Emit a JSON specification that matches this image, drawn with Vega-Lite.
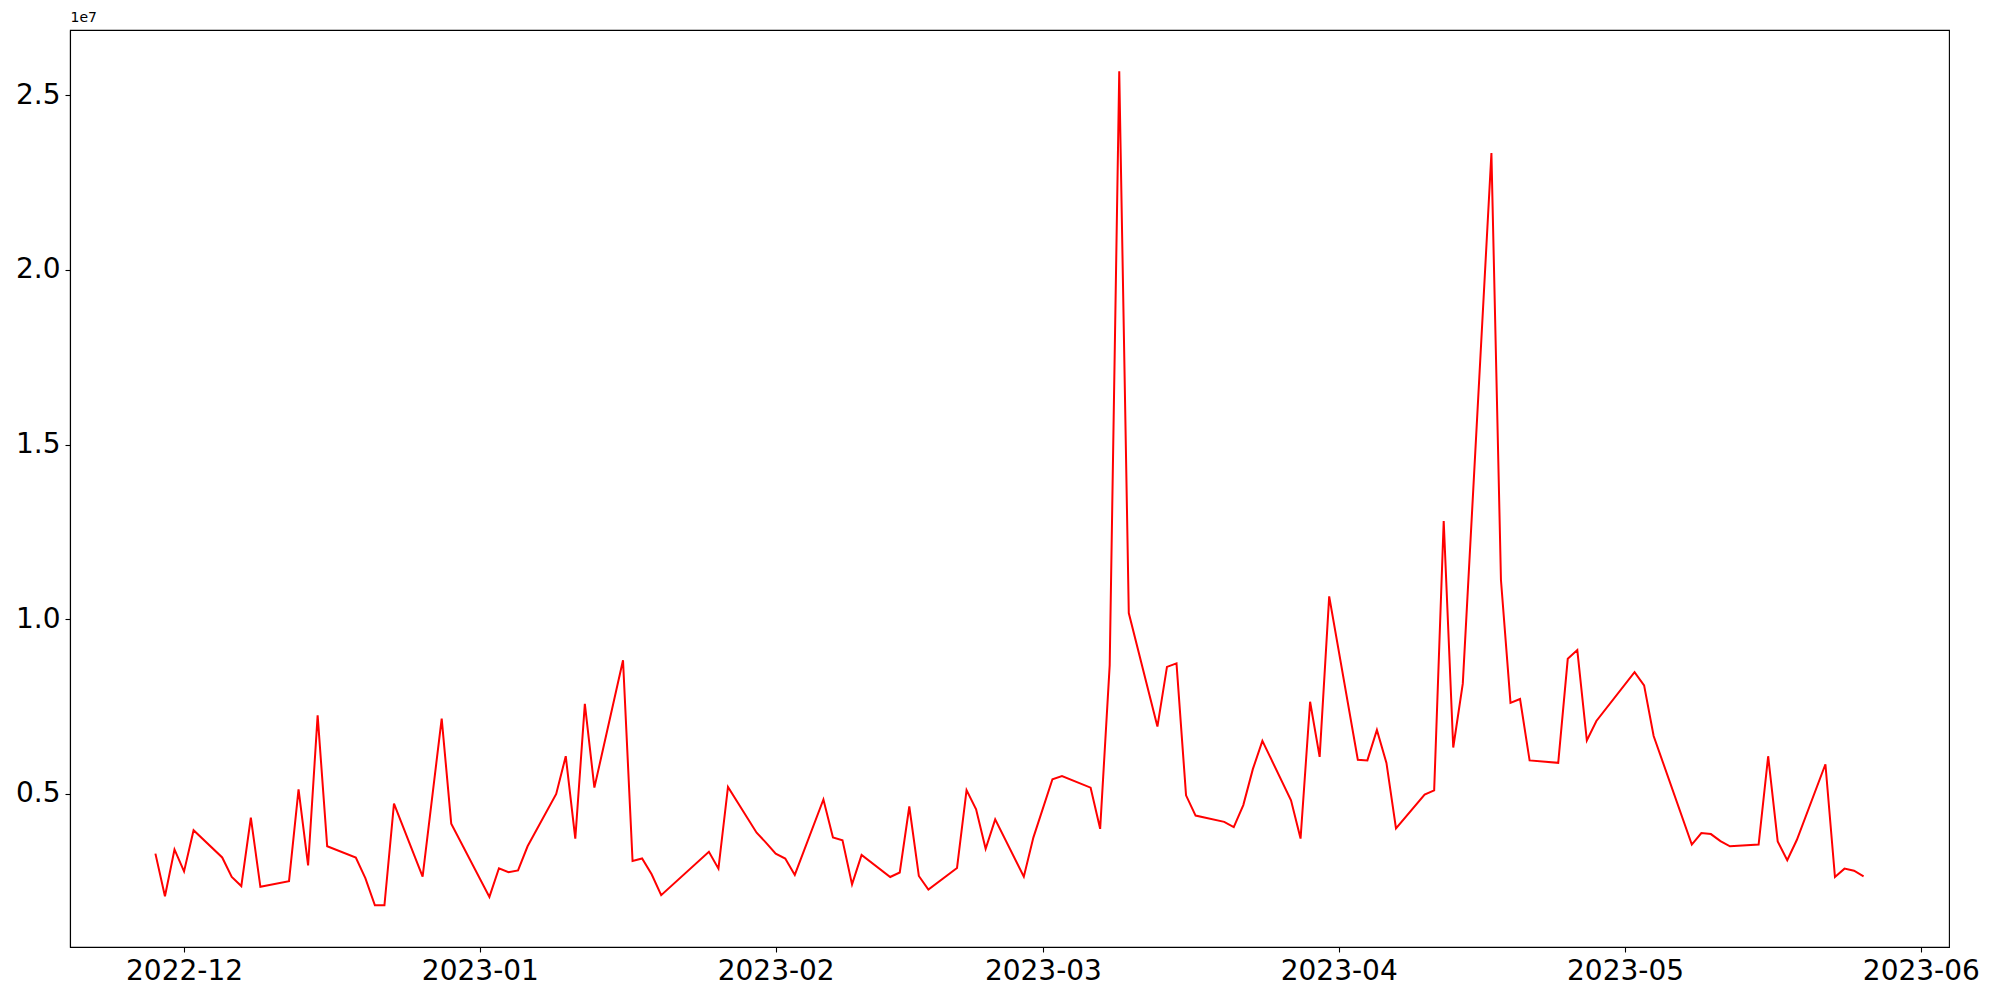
{
  "$schema": "https://vega.github.io/schema/vega-lite/v6.json",
  "autosize": {"type": "none"},
  "padding": {"left": 70, "top": 30, "right": 51, "bottom": 53},
  "width": 1879,
  "height": 917,
  "background": "white",
  "config": {
    "view": {"stroke": "black", "strokeWidth": 1.1},
    "font": "DejaVu Sans",
    "axis": {"grid": false, "domainColor": "black", "tickColor": "black", "labelColor": "black", "labelFont": "DejaVu Sans", "labelFontSize": 28, "tickSize": 5, "labelPadding": 5, "domainWidth": 1.1, "tickWidth": 1.1}
  },
  "data": {"values": [
    {"date": "2022-11-28", "volume": 3280000},
    {"date": "2022-11-29", "volume": 2060000},
    {"date": "2022-11-30", "volume": 3400000},
    {"date": "2022-12-01", "volume": 2770000},
    {"date": "2022-12-02", "volume": 3950000},
    {"date": "2022-12-05", "volume": 3170000},
    {"date": "2022-12-06", "volume": 2610000},
    {"date": "2022-12-07", "volume": 2350000},
    {"date": "2022-12-08", "volume": 4310000},
    {"date": "2022-12-09", "volume": 2330000},
    {"date": "2022-12-12", "volume": 2490000},
    {"date": "2022-12-13", "volume": 5120000},
    {"date": "2022-12-14", "volume": 2940000},
    {"date": "2022-12-15", "volume": 7240000},
    {"date": "2022-12-16", "volume": 3490000},
    {"date": "2022-12-19", "volume": 3170000},
    {"date": "2022-12-20", "volume": 2580000},
    {"date": "2022-12-21", "volume": 1800000},
    {"date": "2022-12-22", "volume": 1800000},
    {"date": "2022-12-23", "volume": 4710000},
    {"date": "2022-12-26", "volume": 2620000},
    {"date": "2022-12-28", "volume": 7150000},
    {"date": "2022-12-29", "volume": 4140000},
    {"date": "2023-01-02", "volume": 2040000},
    {"date": "2023-01-03", "volume": 2860000},
    {"date": "2023-01-04", "volume": 2750000},
    {"date": "2023-01-05", "volume": 2800000},
    {"date": "2023-01-06", "volume": 3490000},
    {"date": "2023-01-09", "volume": 4990000},
    {"date": "2023-01-10", "volume": 6070000},
    {"date": "2023-01-11", "volume": 3710000},
    {"date": "2023-01-12", "volume": 7570000},
    {"date": "2023-01-13", "volume": 5170000},
    {"date": "2023-01-16", "volume": 8820000},
    {"date": "2023-01-17", "volume": 3070000},
    {"date": "2023-01-18", "volume": 3140000},
    {"date": "2023-01-19", "volume": 2690000},
    {"date": "2023-01-20", "volume": 2090000},
    {"date": "2023-01-25", "volume": 3330000},
    {"date": "2023-01-26", "volume": 2850000},
    {"date": "2023-01-27", "volume": 5190000},
    {"date": "2023-01-30", "volume": 3880000},
    {"date": "2023-01-31", "volume": 3590000},
    {"date": "2023-02-01", "volume": 3280000},
    {"date": "2023-02-02", "volume": 3140000},
    {"date": "2023-02-03", "volume": 2670000},
    {"date": "2023-02-06", "volume": 4830000},
    {"date": "2023-02-07", "volume": 3740000},
    {"date": "2023-02-08", "volume": 3660000},
    {"date": "2023-02-09", "volume": 2400000},
    {"date": "2023-02-10", "volume": 3240000},
    {"date": "2023-02-13", "volume": 2610000},
    {"date": "2023-02-14", "volume": 2740000},
    {"date": "2023-02-15", "volume": 4630000},
    {"date": "2023-02-16", "volume": 2640000},
    {"date": "2023-02-17", "volume": 2250000},
    {"date": "2023-02-20", "volume": 2870000},
    {"date": "2023-02-21", "volume": 5100000},
    {"date": "2023-02-22", "volume": 4550000},
    {"date": "2023-02-23", "volume": 3420000},
    {"date": "2023-02-24", "volume": 4260000},
    {"date": "2023-02-27", "volume": 2620000},
    {"date": "2023-02-28", "volume": 3740000},
    {"date": "2023-03-02", "volume": 5410000},
    {"date": "2023-03-03", "volume": 5500000},
    {"date": "2023-03-06", "volume": 5170000},
    {"date": "2023-03-07", "volume": 3990000},
    {"date": "2023-03-08", "volume": 8680000},
    {"date": "2023-03-09", "volume": 25690000},
    {"date": "2023-03-10", "volume": 10170000},
    {"date": "2023-03-13", "volume": 6920000},
    {"date": "2023-03-14", "volume": 8630000},
    {"date": "2023-03-15", "volume": 8730000},
    {"date": "2023-03-16", "volume": 4950000},
    {"date": "2023-03-17", "volume": 4370000},
    {"date": "2023-03-20", "volume": 4190000},
    {"date": "2023-03-21", "volume": 4040000},
    {"date": "2023-03-22", "volume": 4670000},
    {"date": "2023-03-23", "volume": 5700000},
    {"date": "2023-03-24", "volume": 6510000},
    {"date": "2023-03-27", "volume": 4810000},
    {"date": "2023-03-28", "volume": 3710000},
    {"date": "2023-03-29", "volume": 7630000},
    {"date": "2023-03-30", "volume": 6050000},
    {"date": "2023-03-31", "volume": 10650000},
    {"date": "2023-04-03", "volume": 5970000},
    {"date": "2023-04-04", "volume": 5950000},
    {"date": "2023-04-05", "volume": 6820000},
    {"date": "2023-04-06", "volume": 5880000},
    {"date": "2023-04-07", "volume": 4000000},
    {"date": "2023-04-10", "volume": 4970000},
    {"date": "2023-04-11", "volume": 5090000},
    {"date": "2023-04-12", "volume": 12810000},
    {"date": "2023-04-13", "volume": 6320000},
    {"date": "2023-04-14", "volume": 8150000},
    {"date": "2023-04-17", "volume": 23350000},
    {"date": "2023-04-18", "volume": 11120000},
    {"date": "2023-04-19", "volume": 7600000},
    {"date": "2023-04-20", "volume": 7710000},
    {"date": "2023-04-21", "volume": 5950000},
    {"date": "2023-04-24", "volume": 5880000},
    {"date": "2023-04-25", "volume": 8860000},
    {"date": "2023-04-26", "volume": 9110000},
    {"date": "2023-04-27", "volume": 6520000},
    {"date": "2023-04-28", "volume": 7080000},
    {"date": "2023-05-02", "volume": 8480000},
    {"date": "2023-05-03", "volume": 8100000},
    {"date": "2023-05-04", "volume": 6650000},
    {"date": "2023-05-08", "volume": 3540000},
    {"date": "2023-05-09", "volume": 3870000},
    {"date": "2023-05-10", "volume": 3840000},
    {"date": "2023-05-11", "volume": 3640000},
    {"date": "2023-05-12", "volume": 3490000},
    {"date": "2023-05-15", "volume": 3540000},
    {"date": "2023-05-16", "volume": 6070000},
    {"date": "2023-05-17", "volume": 3630000},
    {"date": "2023-05-18", "volume": 3090000},
    {"date": "2023-05-19", "volume": 3670000},
    {"date": "2023-05-22", "volume": 5840000},
    {"date": "2023-05-23", "volume": 2610000},
    {"date": "2023-05-24", "volume": 2850000},
    {"date": "2023-05-25", "volume": 2790000},
    {"date": "2023-05-26", "volume": 2630000}
  ]},
  "mark": {"type": "line", "color": "red", "strokeWidth": 2, "clip": true},
  "encoding": {
    "x": {
      "field": "date", "type": "temporal",
      "scale": {"type": "utc", "domain": [
        {"year": 2022, "month": 11, "date": 19, "hours": 1, "minutes": 12, "utc": true},
        {"year": 2023, "month": 6, "date": 3, "hours": 22, "minutes": 48, "utc": true}
      ]},
      "axis": {
        "title": null,
        "labelExpr": "utcFormat(datum.value, '%Y-%m')",
        "labelFlush": false,
        "labelOverlap": false,
        "values": [
          {"year": 2022, "month": 12, "date": 1, "utc": true},
          {"year": 2023, "month": 1, "date": 1, "utc": true},
          {"year": 2023, "month": 2, "date": 1, "utc": true},
          {"year": 2023, "month": 3, "date": 1, "utc": true},
          {"year": 2023, "month": 4, "date": 1, "utc": true},
          {"year": 2023, "month": 5, "date": 1, "utc": true},
          {"year": 2023, "month": 6, "date": 1, "utc": true}
        ]
      }
    },
    "y": {
      "field": "volume", "type": "quantitative",
      "scale": {"domain": [605000, 26875000], "nice": false, "zero": false},
      "axis": {
        "title": "1e7",
        "titleAngle": 0,
        "titleX": 0,
        "titleY": -6,
        "titleAlign": "left",
        "titleBaseline": "bottom",
        "titleFont": "DejaVu Sans",
        "titleFontSize": 14,
        "titleFontWeight": "normal",
        "titleColor": "black",
        "values": [5000000, 10000000, 15000000, 20000000, 25000000],
        "labelExpr": "format(datum.value / 10000000, '.1f')",
        "labelFlush": false,
        "labelOverlap": false
      }
    }
  }
}
